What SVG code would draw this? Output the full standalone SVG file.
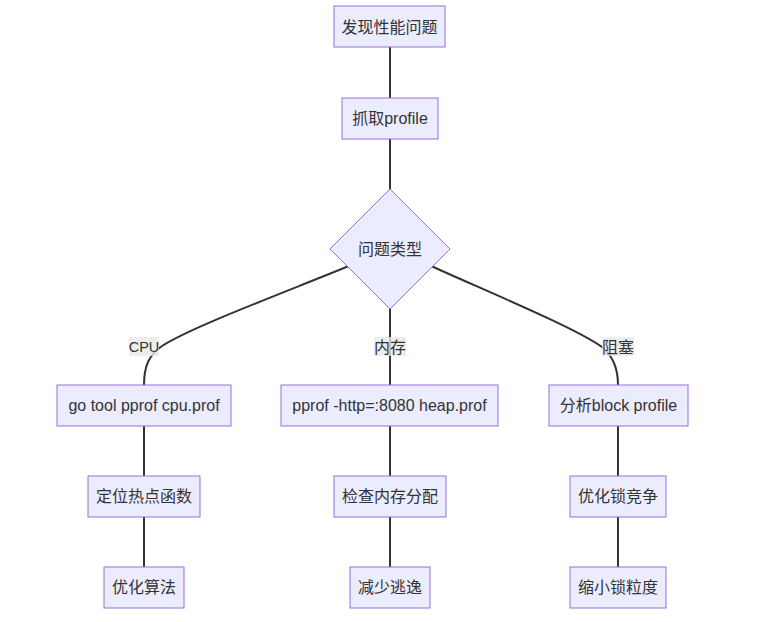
<svg xmlns="http://www.w3.org/2000/svg" width="784" height="622" viewBox="0 0 784 622">
<style>
.node rect,.node polygon{fill:#ECECFF;stroke:#9370DB;stroke-width:1}
text{font-family:"Liberation Sans","Noto Sans CJK SC",sans-serif;font-size:16px;fill:#333;text-anchor:middle;dominant-baseline:central}
.edge{fill:none;stroke:#333;stroke-width:2}
.lbl rect{fill:#E8E8E8;fill-opacity:0.8;stroke:none}
</style>
<rect width="784" height="622" fill="#fff"/>
<g id="edges">
<path class="edge" d="M390,47 L390,98"/>
<path class="edge" d="M390,139 L390,189"/>
<path class="edge" d="M349,266 C270,298 190,328 162,346 C149,355 144,366 144,385"/>
<path class="edge" d="M390,309 L390,385"/>
<path class="edge" d="M431,266 C500,297 575,328 602,347 C613,356 618,368 618,385"/>
<path class="edge" d="M144,426 L144,476"/>
<path class="edge" d="M144,517 L144,567"/>
<path class="edge" d="M390,426 L390,476"/>
<path class="edge" d="M390,517 L390,567"/>
<path class="edge" d="M618,426 L618,476"/>
<path class="edge" d="M618,517 L618,567"/>
</g>
<g id="edge-labels">
<g class="lbl"><rect x="129" y="337" width="30" height="19"/><text x="144" y="347" style="font-size:14.5px">CPU</text></g>
<g class="lbl"><rect x="374" y="337" width="32" height="19"/><text x="390" y="347">内存</text></g>
<g class="lbl"><rect x="602" y="337" width="32" height="19"/><text x="618" y="347">阻塞</text></g>
</g>
<g id="n1" class="node"><rect x="334" y="6" width="111" height="41"/><text x="389.5" y="27">发现性能问题</text></g>
<g id="n2" class="node"><rect x="342" y="98" width="96" height="41"/><text x="390" y="118.5">抓取profile</text></g>
<g id="n3" class="node"><polygon points="390,189 450,249 390,309 330,249"/><text x="390" y="249">问题类型</text></g>
<g id="n4" class="node"><rect x="57" y="385" width="174" height="41"/><text x="144" y="405.5">go tool pprof cpu.prof</text></g>
<g id="n5" class="node"><rect x="281" y="385" width="217" height="41"/><text x="389.5" y="405.5">pprof -http=:8080 heap.prof</text></g>
<g id="n6" class="node"><rect x="549" y="385" width="139" height="41"/><text x="618.5" y="405.5">分析block profile</text></g>
<g id="n7" class="node"><rect x="88" y="476" width="112" height="41"/><text x="144" y="496.5">定位热点函数</text></g>
<g id="n8" class="node"><rect x="334" y="476" width="112" height="41"/><text x="390" y="496.5">检查内存分配</text></g>
<g id="n9" class="node"><rect x="570" y="476" width="96" height="41"/><text x="618" y="496.5">优化锁竞争</text></g>
<g id="n10" class="node"><rect x="104" y="567" width="80" height="41"/><text x="144" y="587.5">优化算法</text></g>
<g id="n11" class="node"><rect x="350" y="567" width="80" height="41"/><text x="390" y="587.5">减少逃逸</text></g>
<g id="n12" class="node"><rect x="570" y="567" width="96" height="41"/><text x="618" y="587.5">缩小锁粒度</text></g>
</svg>
